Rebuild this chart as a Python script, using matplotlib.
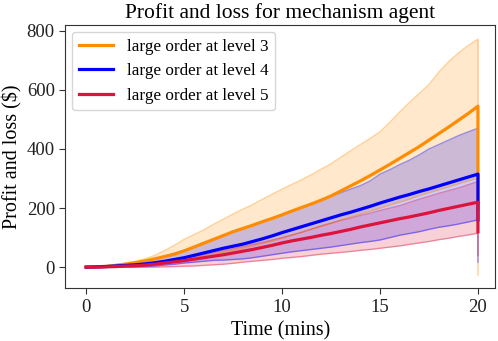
import matplotlib
matplotlib.use("Agg")
import matplotlib.pyplot as plt

plt.rcParams['font.family'] = ['Liberation Serif', 'DejaVu Serif']

# time grid (mins), last point is the end-of-day drop at t=20
t = [i * 0.5 for i in range(41)] + [20.0]

l3_mean = [0, 1, 3, 6, 10, 15, 21, 28, 36, 44, 55, 68, 81, 94, 107, 120, 131, 142, 154, 165,
           177, 190, 202, 214, 227, 241, 258, 275, 292, 310, 329, 348, 368, 388, 408, 430,
           452, 474, 497, 520, 545, 200]
l3_upper = [0, 2, 5, 9, 14, 20, 28, 40, 56, 74, 94, 110, 126, 145, 162, 180, 196, 212, 230, 247,
            264, 280, 296, 313, 332, 350, 372, 394, 415, 436, 458, 490, 525, 557, 588, 618,
            660, 695, 725, 750, 772, 540]
l3_lower = [0, 0, 1, 3, 5, 7, 9, 12, 16, 20, 24, 30, 36, 42, 50, 57, 64, 72, 80, 88,
            98, 108, 118, 128, 138, 148, 160, 170, 180, 190, 200, 210, 220, 230, 242, 252,
            262, 272, 282, 292, 302, -27]

l4_mean = [0, 1, 2, 4, 6, 8, 11, 15, 20, 26, 32, 40, 48, 56, 64, 71, 78, 87, 96, 106,
           117, 127, 137, 147, 157, 167, 177, 186, 196, 206, 217, 227, 237, 246, 256, 265,
           275, 285, 295, 305, 315, 160]
l4_upper = [0, 1, 3, 6, 10, 15, 21, 28, 37, 47, 57, 68, 80, 92, 105, 118, 130, 142, 154, 166,
            178, 190, 202, 214, 226, 240, 252, 264, 276, 292, 315, 330, 347, 362, 380, 400,
            415, 430, 445, 458, 470, 300]
l4_lower = [0, 0, 0, 0, 1, 1, 2, 4, 7, 10, 14, 17, 20, 23, 24, 26, 28, 32, 37, 42,
            47, 52, 56, 60, 64, 68, 73, 78, 83, 87, 92, 100, 108, 114, 120, 128,
            135, 140, 146, 153, 160, 17]

l5_mean = [0, 0, 1, 2, 4, 5, 7, 10, 14, 18, 22, 27, 32, 37, 42, 48, 54, 60, 67, 74,
           82, 89, 95, 101, 108, 114, 121, 128, 136, 143, 150, 157, 164, 170, 177, 184,
           192, 199, 206, 213, 220, 120]
l5_upper = [0, 1, 2, 4, 6, 8, 11, 14, 18, 23, 29, 35, 42, 49, 56, 63, 70, 77, 84, 92,
            100, 109, 118, 129, 140, 149, 158, 166, 175, 183, 192, 200, 208, 219, 230, 240,
            250, 259, 268, 279, 290, 220]
l5_lower = [0, 0, 0, 0, 0, 0, 0, 0, 1, 2, 3, 4, 6, 8, 10, 13, 17, 20, 23, 26,
            30, 33, 36, 40, 44, 47, 50, 53, 57, 60, 64, 68, 72, 77, 82, 87,
            93, 98, 104, 109, 115, 40]

series = [
    ("large order at level 3", l3_mean, l3_lower, l3_upper, "darkorange"),
    ("large order at level 4", l4_mean, l4_lower, l4_upper, "blue"),
    ("large order at level 5", l5_mean, l5_lower, l5_upper, "crimson"),
]

fig = plt.figure(figsize=(4.98, 3.41), dpi=100)
ax = fig.add_axes([0.131, 0.155, 0.863, 0.772])

for label, mean, lower, upper, color in series:
    ax.fill_between(t, lower, upper, color=color, alpha=0.2, linewidth=0)
    ax.plot(t, lower, color=color, alpha=0.4, linewidth=1)
    ax.plot(t, upper, color=color, alpha=0.4, linewidth=1)
for label, mean, lower, upper, color in series:
    ax.plot(t, mean, color=color, linewidth=2.3, label=label)

ax.set_xlim(-1.07, 20.87)
ax.set_ylim(-71, 820)
ax.set_xticks([0, 5, 10, 15, 20])
ax.set_yticks([0, 200, 400, 600, 800])
ax.tick_params(labelsize=13.5, length=4, color="#333333", labelcolor="#222222")
for s in ax.spines.values():
    s.set_color("#333333")

ax.set_title("Profit and loss for mechanism agent", fontsize=15.5, pad=5)
ax.set_xlabel("Time (mins)", fontsize=14.5, labelpad=4)
ax.set_ylabel("Profit and loss (\\$)", fontsize=14.5, labelpad=3)
ax.legend(loc="upper left", fontsize=12.3, handlelength=2.0, borderaxespad=0.4)

plt.savefig("out.png", dpi=100)
